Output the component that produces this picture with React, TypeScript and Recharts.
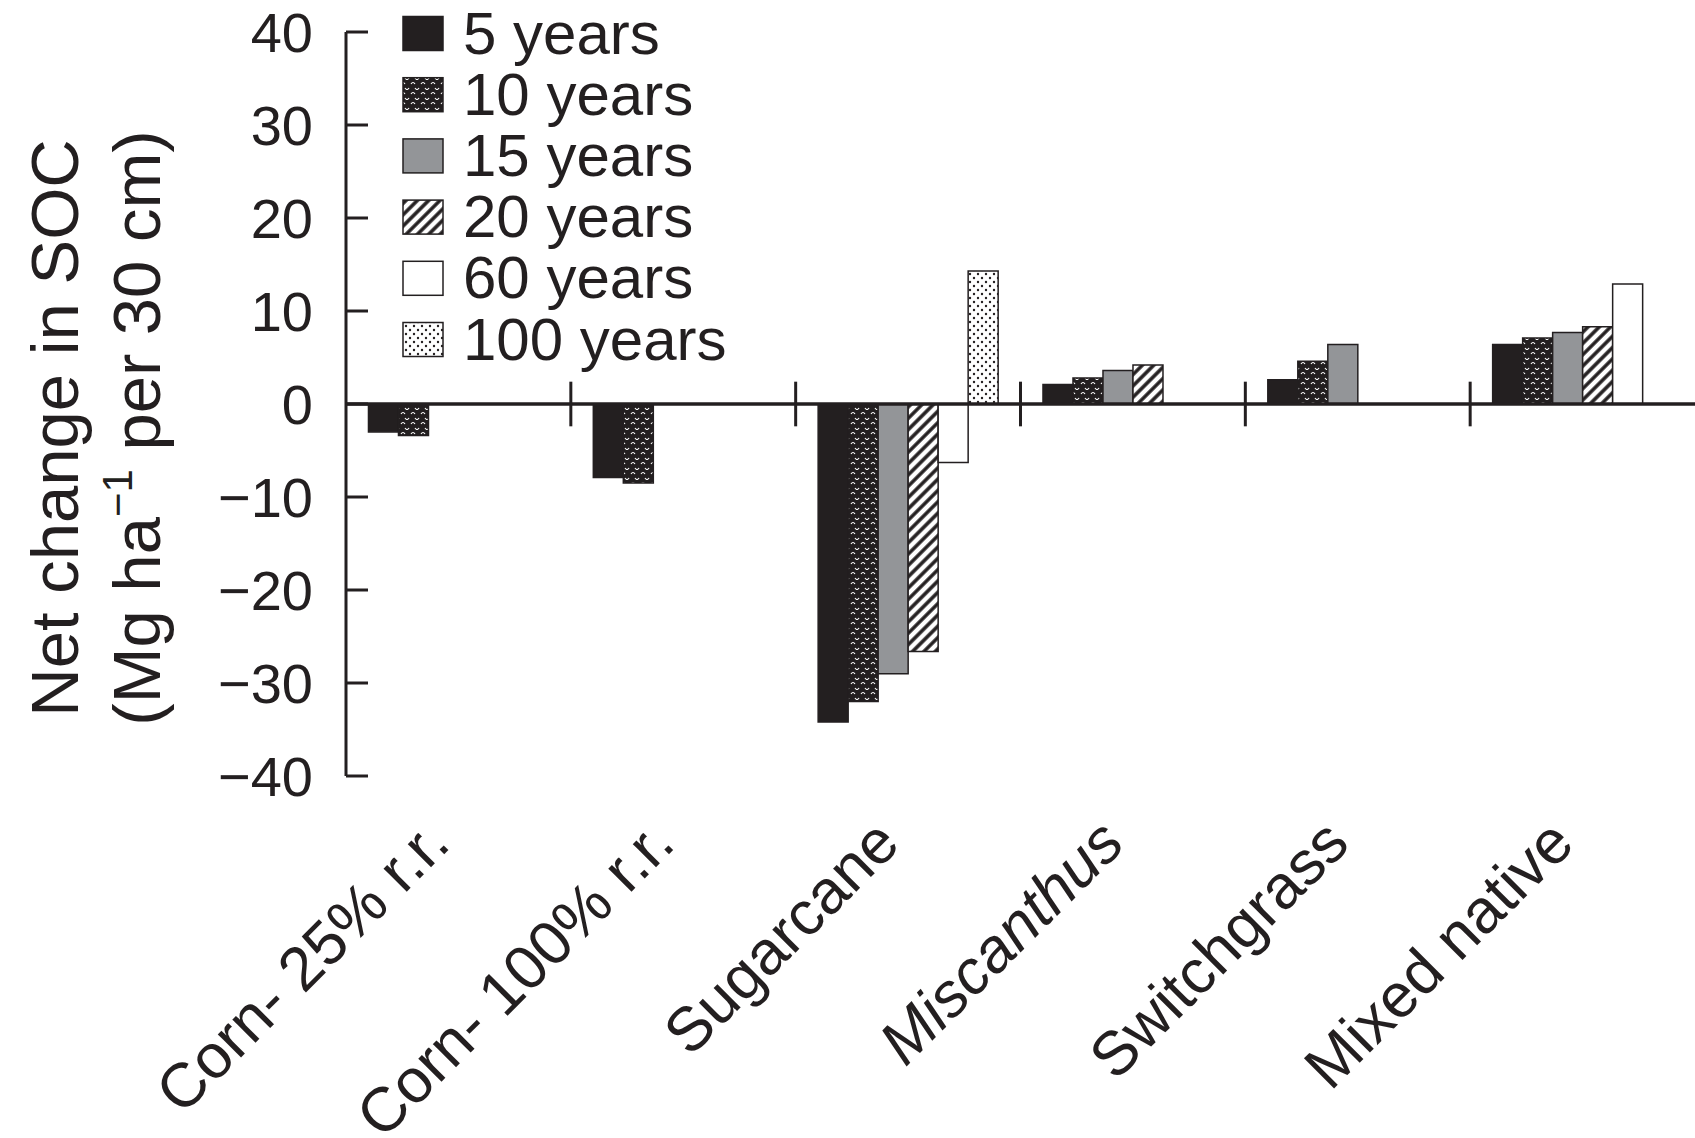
import React from "react";
import { BarChart, Bar, XAxis, YAxis, ReferenceLine, Legend, Label } from "recharts";

const categories = ["Corn- 25% r.r.", "Corn- 100% r.r.", "Sugarcane", "Miscanthus", "Switchgrass", "Mixed native"];
const italicCategories = ["Miscanthus"];

const years5 = [-3.0, -7.9, -34.2, 2.1, 2.6, 6.4];
const years10 = [-3.4, -8.5, -32.0, 2.8, 4.6, 7.1];
const years15 = [null, null, -29.0, 3.6, 6.4, 7.7];
const years20 = [null, null, -26.6, 4.2, null, 8.3];
const years60 = [null, null, -6.3, null, null, 12.9];
const years100 = [null, null, 14.3, null, null, null];

const seriesKeys = ["y5", "y10", "y15", "y20", "y60", "y100"];
const seriesNames = ["5 years", "10 years", "15 years", "20 years", "60 years", "100 years"];
const seriesFills = ["#231f20", "url(#wavy)", "#939598", "url(#hatch)", "#ffffff", "url(#dots)"];
const seriesValues = [years5, years10, years15, years20, years60, years100];

const yTicks = [-40, -30, -20, -10, 0, 10, 20, 30, 40];

const FONT = "'Liberation Sans', Arial, Helvetica, sans-serif";
const INK = "#231f20";

const data = categories.map((name, i) => {
  const row: any = { name };
  seriesKeys.forEach((k, s) => {
    row[k] = seriesValues[s][i];
  });
  return row;
});

// separator ticks sit at the start of every category band but the first
const separators = categories.slice(1);

const fmtY = (v: number) => (v < 0 ? "\u2212" + Math.abs(v) : String(v));

const CategoryTick = (props: any) => {
  const { x, y, payload } = props;
  const italic = italicCategories.includes(payload.value);
  return (
    <g transform={`translate(${x - 6},${y + 70})`}>
      <text
        textAnchor="end"
        transform="rotate(-45)"
        fontSize={62}
        fontFamily={FONT}
        fill={INK}
        fontStyle={italic ? "italic" : "normal"}
      >
        {payload.value}
      </text>
    </g>
  );
};

const AxisTitle = (props: any) => {
  const vb = props.viewBox;
  const cy = vb.y + vb.height / 2 + 24;
  const x1 = vb.x + 78;
  const x2 = vb.x + 160;
  return (
    <g fontFamily={FONT} fill={INK} fontSize={67}>
      <text x={x1} y={cy} textAnchor="middle" transform={`rotate(-90, ${x1}, ${cy})`}>
        Net change in SOC
      </text>
      <text x={x2} y={cy} textAnchor="middle" transform={`rotate(-90, ${x2}, ${cy})`}>
        (Mg ha
        <tspan dy={-28} fontSize={42}>{"\u22121"}</tspan>
        <tspan dy={28}> per 30 cm)</tspan>
      </text>
    </g>
  );
};

const renderLegend = (props: any) => {
  const items = [...(props.payload ?? [])].sort(
    (a: any, b: any) => seriesKeys.indexOf(a.dataKey) - seriesKeys.indexOf(b.dataKey)
  );
  return (
    <svg width={380} height={380} style={{ display: "block" }}>
      {items.map((entry: any, i: number) => {
        const idx = seriesKeys.indexOf(entry.dataKey);
        const cy = 33.5 + i * 61.2;
        return (
          <g key={entry.dataKey}>
            <rect x={3} y={cy - 17} width={40} height={34} fill={seriesFills[idx]} stroke={INK} strokeWidth={1.5} />
            <text x={63} y={cy + 20} fontSize={60} fontFamily={FONT} fill={INK}>
              {entry.value}
            </text>
          </g>
        );
      })}
    </svg>
  );
};

export default function App() {
  return (
    <div style={{ position: "absolute", left: 0, top: 0, background: "#fff" }}>
      <BarChart
        width={1695}
        height={1138}
        data={data}
        margin={{ top: 32, right: 0, bottom: 0, left: 0 }}
        barCategoryGap="10%"
        barGap={0}
      >
        <defs>
          <pattern id="wavy" width={10} height={10} patternUnits="userSpaceOnUse">
            <rect width={10} height={10} fill={INK} />
            <path d="M1 4 q2 -3 4 0" stroke="#fff" strokeWidth={1.2} fill="none" />
            <path d="M5 8 q2 3 4 0" stroke="#fff" strokeWidth={1.2} fill="none" />
          </pattern>
          <pattern id="hatch" width={8} height={8} patternUnits="userSpaceOnUse" patternTransform="rotate(45)">
            <rect width={8} height={8} fill="#fff" />
            <line x1={2} y1={0} x2={2} y2={8} stroke={INK} strokeWidth={3.5} />
          </pattern>
          <pattern id="dots" width={8} height={8} patternUnits="userSpaceOnUse">
            <rect width={8} height={8} fill="#fff" />
            <circle cx={2} cy={2} r={1.2} fill={INK} />
            <circle cx={6} cy={6} r={1.2} fill={INK} />
          </pattern>
        </defs>
        <XAxis
          dataKey="name"
          height={362}
          tickSize={0}
          tickMargin={0}
          axisLine={false}
          tickLine={false}
          interval={0}
          tick={CategoryTick}
        />
        <YAxis
          width={346}
          domain={[-40, 40]}
          ticks={yTicks}
          allowDataOverflow
          tickFormatter={fmtY}
          tickSize={-22}
          tickMargin={55}
          tick={{ fontSize: 56, fill: INK, fontFamily: FONT }}
          tickLine={{ stroke: INK, strokeWidth: 3 }}
          axisLine={{ stroke: INK, strokeWidth: 3 }}
        >
          <Label content={AxisTitle} />
        </YAxis>
        <Legend
          content={renderLegend}
          layout="horizontal"
          verticalAlign="middle"
          align="center"
          wrapperStyle={{ left: 400, top: 0, width: 380, height: 380 }}
        />
        {seriesKeys.map((k, s) => (
          <Bar
            key={k}
            dataKey={k}
            name={seriesNames[s]}
            fill={seriesFills[s]}
            stroke={INK}
            strokeWidth={1.5}
            isAnimationActive={false}
          />
        ))}
        <ReferenceLine y={0} stroke={INK} strokeWidth={3.5} />
        {separators.map((c) => (
          <ReferenceLine
            key={c}
            position="start"
            segment={[
              { x: c, y: 2.4 },
              { x: c, y: -2.4 },
            ]}
            stroke={INK}
            strokeWidth={3}
          />
        ))}
      </BarChart>
    </div>
  );
}
